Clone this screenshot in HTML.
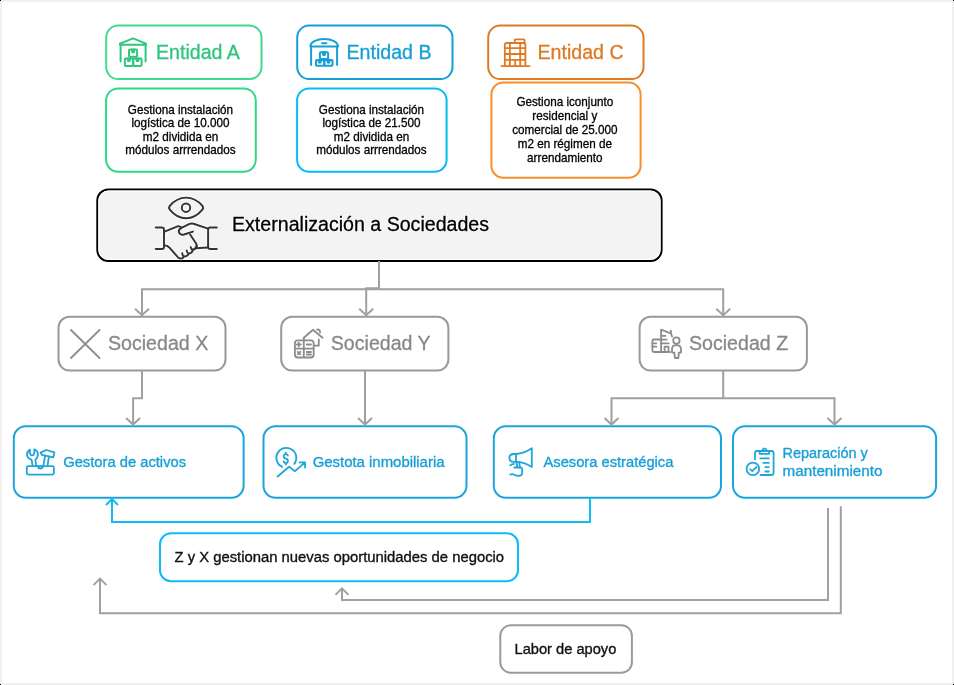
<!DOCTYPE html>
<html><head><meta charset="utf-8">
<style>
html,body{margin:0;padding:0;background:#fff;}
body{width:954px;height:685px;overflow:hidden;position:relative;}
svg{position:absolute;left:0;top:0;}
text{font-family:"Liberation Sans",sans-serif;}
</style></head>
<body>
<div style="position:absolute;left:0;top:0;width:954px;height:685px;will-change:transform">
<svg width="954" height="685" viewBox="0 0 954 685">
<!-- frame -->
<rect x="1" y="1" width="952" height="683" fill="none" stroke="#f0f0f0" stroke-width="2"/>
<rect x="0" y="0" width="1" height="1" fill="#000"/>
<rect x="953" y="0" width="1" height="1" fill="#000"/>
<rect x="0" y="684" width="1" height="1" fill="#000"/>
<rect x="953" y="684" width="1" height="1" fill="#000"/>

<g fill="none" stroke-width="2">
<!-- Entidad boxes -->
<rect x="106.2" y="25.6" width="155.3" height="53.5" rx="12" stroke="#3ddc8a"/>
<rect x="106.1" y="88.4" width="149.7" height="83.3" rx="12" stroke="#2ed884"/>
<rect x="297.2" y="25.6" width="155.3" height="53.5" rx="12" stroke="#14a0d6"/>
<rect x="297.1" y="88.4" width="149.5" height="83.3" rx="12" stroke="#03bdf6"/>
<rect x="488.2" y="25.6" width="155.3" height="53.5" rx="12" stroke="#df7a22"/>
<rect x="491.4" y="82.5" width="149.2" height="95.2" rx="12" stroke="#f98d2b"/>
<!-- Ext -->
<rect x="97.3" y="189.5" width="564.3" height="71.5" rx="11" stroke="#000" fill="#f3f3f3"/>
<rect x="98.8" y="191" width="561.3" height="68.5" rx="9.5" stroke="#fff" stroke-width="1" fill="none"/>
<!-- Sociedades -->
<rect x="58.5" y="316.8" width="167" height="53.8" rx="11" stroke="#999"/>
<rect x="281.2" y="316.8" width="167.2" height="53.8" rx="11" stroke="#999"/>
<rect x="639.6" y="316.8" width="167.3" height="53.8" rx="11" stroke="#999"/>
<!-- bottom row -->
<rect x="13.8" y="426.3" width="229.8" height="71.5" rx="12" stroke="#18a5d9"/>
<rect x="263.5" y="426.3" width="203" height="71.5" rx="12" stroke="#18a5d9"/>
<rect x="493.8" y="426.3" width="227.2" height="71.5" rx="12" stroke="#18a5d9"/>
<rect x="733" y="426.3" width="203.1" height="71.5" rx="12" stroke="#18a5d9"/>
<!-- ZyX & Labor -->
<rect x="160" y="533.3" width="358" height="47.9" rx="11" stroke="#0dbcf9"/>
<rect x="500.3" y="625.3" width="131.6" height="47.4" rx="10.5" stroke="#9a9a9a"/>
</g>

<!-- connectors -->
<g fill="none" stroke="#a0a0a0" stroke-width="2" stroke-linejoin="miter" stroke-linecap="butt">
<path d="M379 261 V288.2 H366.2 V315.2"/>
<path d="M359.2 308.7 L366.2 315.2 L373.2 308.7"/>
<path d="M142 315.2 V289.2 H723.2 V315.2"/>
<path d="M135 308.7 L142 315.2 L149 308.7"/>
<path d="M716.2 308.7 L723.2 315.2 L730.2 308.7"/>
<path d="M142 370.6 V398.2 H133.1 V424.6"/>
<path d="M126.1 418.1 L133.1 424.6 L140.1 418.1"/>
<path d="M365 370.6 V424.6"/>
<path d="M358 418.1 L365 424.6 L372 418.1"/>
<path d="M723.2 370.6 V398.3"/>
<path d="M611.5 424.6 V398.3 H834.5 V424.6"/>
<path d="M604.5 418.1 L611.5 424.6 L618.5 418.1"/>
<path d="M827.5 418.1 L834.5 424.6 L841.5 418.1"/>
<path d="M828 508 V600 H342 V588.4"/>
<path d="M335.5 594.9 L342 588.4 L348.5 594.9"/>
<path d="M840.8 506.2 V613.3 H100 V578.6"/>
<path d="M93.5 585.1 L100 578.6 L106.5 585.1"/>
</g>
<g fill="none" stroke="#0dbcf9" stroke-width="2">
<path d="M590 497.8 V522 H112 V499"/>
<path d="M106 505 L112 499 L118 505"/>
</g>

<!-- icons -->
<g fill="none" stroke="#2fc77d" stroke-width="2" stroke-linejoin="round" stroke-linecap="round">
<path d="M120 44.8 V43.6 L133 38.4 L146 43.6 V44.8 Z"/>
<path d="M120.6 44.8 V61.6 M145.6 44.8 V61.6"/>
<rect x="129" y="49.5" width="8.1" height="7.3" rx="0.8"/>
<path d="M132.1 49.5 V51.6 A1 1 0 0 0 134.1 51.6 V49.5"/>
<rect x="124.8" y="58.6" width="8.4" height="7.3" rx="0.8"/>
<rect x="133.2" y="58.6" width="8.4" height="7.3" rx="0.8"/>
<path d="M127.9 58.6 V60.3 A1 1 0 0 0 129.9 60.3 V58.6"/>
<path d="M136.5 58.6 V60.3 A1 1 0 0 0 138.5 60.3 V58.6"/>
</g>
<g fill="none" stroke="#14a0d6" stroke-width="2" stroke-linejoin="round" stroke-linecap="round">
<path d="M310.4 46.6 A13.8 7.6 0 0 1 338 46.6 Z"/>
<path d="M322 43.2 H326.5"/>
<path d="M311.1 46.6 V65 M337.1 46.6 V65"/>
<rect x="319.9" y="52.2" width="8.2" height="6.8" rx="0.8"/>
<path d="M323 52.2 V54.3 A1 1 0 0 0 325 54.3 V52.2"/>
<rect x="316" y="60" width="8.25" height="5.8" rx="0.8"/>
<rect x="324.25" y="60" width="8.25" height="5.8" rx="0.8"/>
<path d="M318.8 60 V61.8 A1 1 0 0 0 320.8 61.8 V60"/>
<path d="M327.5 60 V61.8 A1 1 0 0 0 329.5 61.8 V60"/>
</g>
<g fill="none" stroke="#df7a22" stroke-width="1.8" stroke-linejoin="round" stroke-linecap="round">
<path d="M504.8 66 V45 Q504.8 43 506.8 43 H523.5 Q525.4 43 525.4 45 V66"/>
<path d="M501.5 66.2 H529.5"/>
<rect x="514.8" y="39.4" width="9.7" height="3.6" rx="0.6"/>
<path d="M509.9 43 V66 M520.2 43 V66 M515.2 59.8 V66"/>
<path d="M504.8 48.2 H525.3 M504.8 54 H525.3 M504.8 59.8 H525.3"/>
</g>
<g fill="none" stroke="#fff" stroke-opacity="0.8" stroke-width="3.4" stroke-linejoin="round" stroke-linecap="round">
<path d="M186.1 197.6 C193 197.6 198.8 201.6 202.4 205.8 Q203.9 207.7 202.4 209.6 C198.8 214 193 218.3 186.1 218.3 C179.2 218.3 173.4 214 169.8 209.6 Q168.3 207.7 169.8 205.8 C173.4 201.6 179.2 197.6 186.1 197.6 Z"/>
<circle cx="186" cy="207.7" r="4.2"/>
<path d="M155.7 227.4 H162 Q164 227.4 164 229.5 V246.8 Q164 249 162 249 H155.7"/>
<path d="M216.8 227.4 H210.4 Q208.1 227.4 208.1 229.5 V246.8 Q208.1 249 210.4 249 H216.8"/>
<path d="M164.5 231.6 L177.5 226.3 Q179.5 225.7 181.5 227.5"/>
<path d="M208.1 228.6 L193.5 223.8 Q191 223.2 189 224.2 L181 228.2 Q178 230 179 232.5 Q180.5 235.5 184 234.5 L193 231.6"/>
<path d="M190.1 234.5 L196.3 243.8 Q197.6 247 194.5 249"/>
<path d="M195.3 248.3 L208.1 247.5"/>
<path d="M164.5 245.4 Q167 245.3 169 247.2 L177 256.2 Q178.5 258.3 180 258.4 Q182.8 259.2 183.8 256.5 Q187.3 256.7 188.8 253.6 Q192.2 253.2 193 249.8 Q196.4 249 196.8 245.6"/>
<path d="M182.3 253.2 Q182.4 256 183.8 256.5 M186.7 250.5 Q186.9 253 188.8 253.6 M190.7 247.1 Q191 249.3 193 249.8"/>
</g>
<g fill="none" stroke="#333" stroke-width="1.95" stroke-linejoin="round" stroke-linecap="round">
<path d="M186.1 197.6 C193 197.6 198.8 201.6 202.4 205.8 Q203.9 207.7 202.4 209.6 C198.8 214 193 218.3 186.1 218.3 C179.2 218.3 173.4 214 169.8 209.6 Q168.3 207.7 169.8 205.8 C173.4 201.6 179.2 197.6 186.1 197.6 Z"/>
<circle cx="186" cy="207.7" r="4.2"/>
<path d="M155.7 227.4 H162 Q164 227.4 164 229.5 V246.8 Q164 249 162 249 H155.7"/>
<path d="M216.8 227.4 H210.4 Q208.1 227.4 208.1 229.5 V246.8 Q208.1 249 210.4 249 H216.8"/>
<path d="M164.5 231.6 L177.5 226.3 Q179.5 225.7 181.5 227.5"/>
<path d="M208.1 228.6 L193.5 223.8 Q191 223.2 189 224.2 L181 228.2 Q178 230 179 232.5 Q180.5 235.5 184 234.5 L193 231.6"/>
<path d="M190.1 234.5 L196.3 243.8 Q197.6 247 194.5 249"/>
<path d="M195.3 248.3 L208.1 247.5"/>
<path d="M164.5 245.4 Q167 245.3 169 247.2 L177 256.2 Q178.5 258.3 180 258.4 Q182.8 259.2 183.8 256.5 Q187.3 256.7 188.8 253.6 Q192.2 253.2 193 249.8 Q196.4 249 196.8 245.6"/>
<path d="M182.3 253.2 Q182.4 256 183.8 256.5 M186.7 250.5 Q186.9 253 188.8 253.6 M190.7 247.1 Q191 249.3 193 249.8"/>
</g>
<g fill="none" stroke="#8c8c8c" stroke-width="1.8" stroke-linejoin="round" stroke-linecap="round">
<path d="M71 330 L99.5 358 M99.5 330 L71 358"/>
<rect x="294.9" y="340.3" width="18.8" height="17.2" rx="3"/>
<path d="M303.8 337.8 V357.2 M295 348.7 H313.2"/>
<path d="M298.8 342.6 V346.4 M296.9 344.5 H300.7 M306.8 344.5 H311"/>
<path d="M297.7 351.8 L300.3 354.4 M300.3 351.8 L297.7 354.4 M306.8 352 H311 M306.8 354.5 H311"/>
<path d="M303.8 337.8 L313 329.7 L322.5 337.8"/>
<path d="M317.2 329.5 Q320.3 329.4 320 332.6"/>
<path d="M318.8 339.3 V345.6 H314.5"/>
<path d="M661 339.5 H654 Q652.4 339.5 652.4 341 V350.5 Q652.4 352 654 352 H669.9"/>
<path d="M652.4 343.4 H656.3 M652.4 346.7 H656.3"/>
<path d="M661.1 352 V329.6 L670.6 333.3 M670.9 330.6 V333.3 L672.1 336.5"/>
<path d="M661 335.8 H665.5 M661 339.6 H666.7 M661 343.4 H668.6"/>
<path d="M664.6 352 V346.7 H668.5 V352"/>
<circle cx="676.4" cy="340.6" r="3.2"/>
<path d="M672 352.6 V349.5 Q672 345.2 676.5 345.2 Q681 345.2 681 349.5 V352.6 H678.8 L678.4 358 H674.9 L674.4 352.6 Z"/>
</g>
<g fill="none" stroke="#1ea5da" stroke-width="1.8" stroke-linejoin="round" stroke-linecap="round">
<rect x="26.8" y="466.2" width="27.1" height="8.4" rx="1.5"/>
<path d="M38.1 466.2 A2.3 2.3 0 0 0 42.7 466.2"/>
<path d="M32.6 465.3 L31.5 459.7 Q27.6 458.6 27 455.2 Q26.5 452 29.9 449.6 V452.5 Q30.1 455.3 32.2 455.3 Q34.2 455.3 34.3 452.5 V449.3 Q37.9 451 37.9 454 Q37.9 458 35.4 459.7 L36.1 465.3"/>
<path d="M40.6 452.6 L46.3 450 L54.4 452.4 L53.3 457.3 L48.9 456.4 L41.8 454.8 Z"/>
<path d="M45 456.4 L43.5 465 M48.9 456.8 L47.6 465"/>
<path d="M282.2 466.9 A10 10 0 1 1 294.3 463.9"/>
<path d="M287.9 455.6 Q287.6 454.2 285.8 454.2 Q283.7 454.2 283.7 456.3 Q283.7 458.4 285.8 458.6 Q287.9 458.8 287.9 460.9 Q287.9 463 285.8 463 Q284 463 283.7 461.5 M285.8 452.6 V454.2 M285.8 463 V464.6"/>
<path d="M277.6 476.5 L289 466.8 L295.1 471.2 L305 462.4 M299.6 462.4 H305 V467.6"/>
<path d="M516 454 Q524 453.5 531.8 448.3 V467 Q524 462 516 461.9"/>
<path d="M516 454 H514 Q509.4 454 509.4 457.95 Q509.4 461.9 514 461.9 H516 Z"/>
<path d="M516.5 462 L517.3 467.3 M519.3 462.3 L519.8 467.3"/>
<path d="M510.2 465.4 Q512 464 514 463.8 M514.3 467.5 H520.5 Q522.2 467.7 522.2 470 V473 Q522 475.9 518.8 475.9 Q516.2 475.9 514.3 474.7 Q512.2 473.5 510.3 474.5"/>
<path d="M755 459.3 V453.2 Q755 451 757.2 451 H771.4 Q773.6 451 773.6 453.2 V472.8 Q773.6 475 771.4 475 H760.5"/>
<path d="M759.7 451 V453.9 H769.1 V451 M761.8 451 Q764.4 445.6 767 451"/>
<path d="M760.3 458.4 H768.8 M763.2 462.8 H768.8 M765.3 467.1 H768.8 M765.3 471.5 H768.8"/>
<circle cx="752.9" cy="468.9" r="6.3"/>
<path d="M750.3 469.3 L752.3 471.2 L756.5 467"/>
</g>

<!-- texts -->
<g font-size="19.6" stroke-width="0.3">
<text x="156" y="59" fill="#2ec47c" stroke="#2ec47c">Entidad A</text>
<text x="346.5" y="59" fill="#159fd5" stroke="#159fd5">Entidad B</text>
<text x="537.5" y="59" fill="#dd7a24" stroke="#dd7a24">Entidad C</text>
<text x="232" y="231.4" fill="#fff" stroke="#fff" stroke-width="2.2" stroke-opacity="0.85" stroke-linejoin="round">Externalización a Sociedades</text>
<text x="232" y="231.4" fill="#000" stroke="#000">Externalización a Sociedades</text>
<text x="108" y="349.5" fill="#888" stroke="#888">Sociedad X</text>
<text x="330.8" y="349.5" fill="#888" stroke="#888">Sociedad Y</text>
<text x="689" y="349.5" fill="#888" stroke="#888">Sociedad Z</text>
</g>
<g font-size="12.05" fill="#000" stroke="#000" stroke-width="0.3" text-anchor="middle">
<text x="180.5" y="113.5" textLength="105.27" lengthAdjust="spacingAndGlyphs">Gestiona instalación</text>
<text x="180.5" y="127.2" textLength="98.13" lengthAdjust="spacingAndGlyphs">logística de 10.000</text>
<text x="180.5" y="141.1" textLength="75.38" lengthAdjust="spacingAndGlyphs">m2 dividida en</text>
<text x="180.5" y="154.3" textLength="110.45" lengthAdjust="spacingAndGlyphs">módulos arrrendados</text>
<text x="371.5" y="113.5" textLength="105.27" lengthAdjust="spacingAndGlyphs">Gestiona instalación</text>
<text x="371.5" y="127.2" textLength="98.13" lengthAdjust="spacingAndGlyphs">logística de 21.500</text>
<text x="371.5" y="141.1" textLength="75.38" lengthAdjust="spacingAndGlyphs">m2 dividida en</text>
<text x="371.5" y="154.3" textLength="110.45" lengthAdjust="spacingAndGlyphs">módulos arrrendados</text>
<text x="564.8" y="105.7" textLength="96.81" lengthAdjust="spacingAndGlyphs">Gestiona iconjunto</text>
<text x="564.8" y="120.2" textLength="64.97" lengthAdjust="spacingAndGlyphs">residencial y</text>
<text x="564.8" y="134" textLength="105.27" lengthAdjust="spacingAndGlyphs">comercial de 25.000</text>
<text x="564.8" y="147.9" textLength="94.2" lengthAdjust="spacingAndGlyphs">m2 en régimen de</text>
<text x="564.8" y="161.7" textLength="75.38" lengthAdjust="spacingAndGlyphs">arrendamiento</text>
</g>
<g font-size="15.1" fill="#179fd6" stroke="#179fd6" stroke-width="0.35">
<text x="63.2" y="467.2" textLength="122.9" lengthAdjust="spacingAndGlyphs">Gestora de activos</text>
<text x="312.7" y="467.2" textLength="131.8" lengthAdjust="spacingAndGlyphs">Gestota inmobiliaria</text>
<text x="543.5" y="467.2" textLength="129.9" lengthAdjust="spacingAndGlyphs">Asesora estratégica</text>
<text x="782.5" y="457.5" textLength="85.3" lengthAdjust="spacingAndGlyphs">Reparación y</text>
<text x="782.5" y="475.7" textLength="100" lengthAdjust="spacingAndGlyphs">mantenimiento</text>
</g>
<g font-size="15.1" fill="#111" stroke="#111" stroke-width="0.35">
<text x="174.5" y="562" textLength="329.6" lengthAdjust="spacingAndGlyphs">Z y X gestionan nuevas oportunidades de negocio</text>
<text x="514.5" y="654" textLength="101.8" lengthAdjust="spacingAndGlyphs">Labor de apoyo</text>
</g>
</svg>
</div>
</body></html>
